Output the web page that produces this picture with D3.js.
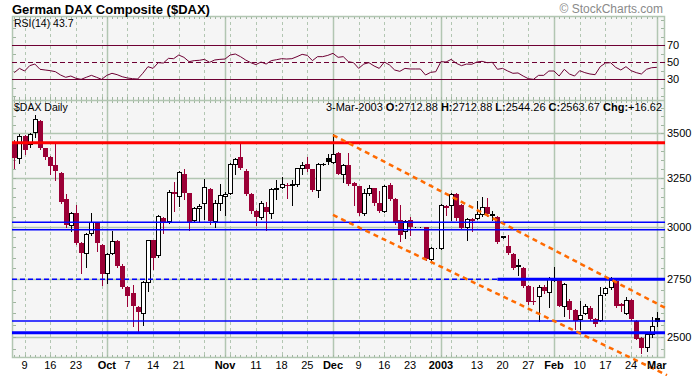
<!DOCTYPE html>
<html>
<head>
<meta charset="utf-8">
<script src="https://cdn.jsdelivr.net/npm/d3@7/dist/d3.min.js"></script>
<style>
  body { margin: 0; background: #fff; }
  svg { display: block; font-family: "Liberation Sans", Arial, sans-serif; }
</style>
</head>
<body>
<svg id="chart" width="694" height="376"></svg>
<script>
// German DAX daily candles with RSI(14), Sep 2002 - Mar 2003

const tradingDays = [
  "2002-09-05","2002-09-06","2002-09-09","2002-09-10","2002-09-11","2002-09-12","2002-09-13",
  "2002-09-16","2002-09-17","2002-09-18","2002-09-19","2002-09-20","2002-09-23","2002-09-24",
  "2002-09-25","2002-09-26","2002-09-27","2002-09-30",
  "2002-10-01","2002-10-02","2002-10-03","2002-10-04","2002-10-07","2002-10-08","2002-10-09",
  "2002-10-10","2002-10-11","2002-10-14","2002-10-15","2002-10-16","2002-10-17","2002-10-18",
  "2002-10-21","2002-10-22","2002-10-23","2002-10-24","2002-10-25","2002-10-28","2002-10-29",
  "2002-10-30","2002-10-31",
  "2002-11-01","2002-11-04","2002-11-05","2002-11-06","2002-11-07","2002-11-08","2002-11-11",
  "2002-11-12","2002-11-13","2002-11-14","2002-11-15","2002-11-18","2002-11-19","2002-11-20",
  "2002-11-21","2002-11-22","2002-11-25","2002-11-26","2002-11-27","2002-11-28","2002-11-29",
  "2002-12-02","2002-12-03","2002-12-04","2002-12-05","2002-12-06","2002-12-09","2002-12-10",
  "2002-12-11","2002-12-12","2002-12-13","2002-12-16","2002-12-17","2002-12-18","2002-12-19",
  "2002-12-20","2002-12-23","2002-12-24","2002-12-26","2002-12-27","2002-12-30","2002-12-31",
  "2003-01-02","2003-01-03","2003-01-06","2003-01-07","2003-01-08","2003-01-09","2003-01-10",
  "2003-01-13","2003-01-14","2003-01-15","2003-01-16","2003-01-17","2003-01-20","2003-01-21",
  "2003-01-22","2003-01-23","2003-01-24","2003-01-27","2003-01-28","2003-01-29","2003-01-30",
  "2003-01-31",
  "2003-02-03","2003-02-04","2003-02-05","2003-02-06","2003-02-07","2003-02-10","2003-02-11",
  "2003-02-12","2003-02-13","2003-02-14","2003-02-17","2003-02-18","2003-02-19","2003-02-20",
  "2003-02-21","2003-02-24","2003-02-25","2003-02-26","2003-02-27","2003-02-28",
  "2003-03-03"
];

const openP = [
  3450,3362,3484,3437,3506,3571,3415,3364,3319,3279,3140,3009,3068,2919,2874,2968,3021,2911,
  2777,2871,2927,2813,2717,2686,2625,2601,2737,2932,2860,3043,3026,3178,3155,3272,3170,3034,
  3093,3117,3193,3026,3117,
  3155,3170,3326,3364,3290,3164,3080,3048,3098,3068,3193,3201,3216,3216,3218,3303,3325,3297,
  3188,3326,3362,
  3336,3390,3275,3322,3225,3207,3068,3170,3197,3117,3080,3216,3141,3034,2979,3034,3000,3000,
  3000,2842,2895,
  2895,3102,3111,3164,3111,3000,3040,3043,3063,3098,3060,3048,2949,2907,2868,2812,2800,2720,
  2655,2673,2717,2693,
  2748,2752,2630,2655,2613,2576,2601,2624,2573,2569,2688,2713,2744,2641,2601,2659,2566,2496,
  2460,2510,
  2580
];
const highP = [
  3462,3494,3490,3500,3610,3575,3418,3370,3443,3285,3166,3075,3111,2925,2968,3068,3025,2915,
  2870,2979,2932,2818,2720,2725,2630,2740,2935,2935,3058,3050,3185,3229,3290,3300,3172,3100,
  3113,3246,3200,3136,3220,
  3175,3330,3360,3443,3300,3170,3085,3128,3122,3195,3240,3255,3225,3240,3305,3340,3364,3300,
  3335,3330,3380,
  3494,3395,3325,3390,3230,3210,3190,3215,3200,3180,3215,3225,3145,3111,3034,3050,3000,3000,
  3000,2900,2895,
  3115,3111,3170,3170,3115,3045,3045,3128,3150,3145,3080,3055,2956,2959,2870,2845,2805,2725,
  2713,2725,2725,2760,
  2808,2755,2735,2660,2617,2652,2640,2630,2580,2717,2715,2758,2748,2645,2672,2660,2570,2500,
  2520,2583,
  2607
];
const lowP = [
  3303,3330,3384,3420,3480,3410,3355,3270,3241,3118,3000,2979,2915,2777,2808,2960,2879,2725,
  2732,2865,2808,2710,2629,2544,2523,2551,2695,2796,2855,2968,3020,3080,3102,3140,2984,3022,
  3026,3040,3014,3000,3085,
  3060,3165,3275,3300,3160,3068,3009,3040,2984,3043,3140,3195,3146,3110,3210,3275,3290,3180,
  3150,3320,3325,
  3330,3270,3232,3215,3111,3060,3060,3160,3110,3075,3075,3135,3015,2927,2946,2960,3000,3000,
  2840,2835,2895,
  2890,3060,3034,3035,2990,2935,2980,3040,3055,3055,3035,2918,2944,2865,2798,2770,2715,2640,
  2640,2566,2690,2626,
  2740,2630,2587,2580,2531,2531,2598,2570,2544,2565,2680,2705,2628,2610,2598,2570,2490,2436,
  2442,2500,
  2544
];
const closeP = [
  3358,3484,3405,3494,3581,3418,3364,3317,3290,3122,3009,3068,2919,2874,2963,3021,2922,2773,
  2866,2927,2813,2717,2673,2629,2605,2737,2932,2850,3055,3018,3176,3168,3282,3170,3018,3093,
  3105,3202,3026,3117,3160,
  3166,3326,3355,3303,3164,3080,3048,3120,3071,3192,3200,3220,3208,3218,3303,3320,3297,3188,
  3325,3325,3336,
  3380,3275,3319,3220,3207,3068,3170,3197,3117,3080,3207,3141,3022,2959,3029,3000,3000,3000,
  2845,2895,2895,
  3111,3093,3164,3043,2995,3038,3030,3063,3098,3062,3064,2924,2952,2871,2803,2815,2720,2649,
  2647,2713,2695,2755,
  2757,2633,2728,2613,2566,2590,2630,2573,2554,2678,2710,2745,2633,2630,2659,2576,2493,2456,
  2510,2547,
  2564
];

const rsiValues = [
  37.5,42.5,39.4,45.7,47.6,41.4,40.6,39.8,38.6,34.7,32.0,33.5,30.8,29.6,32.0,34.3,32.0,29.6,
  34.3,36.7,35.1,32.7,31.2,30.4,30.0,36.7,44.5,42.5,49.2,48.8,54.3,53.9,58.2,55.5,50.4,51.6,
  52.0,53.1,49.6,52.4,53.1,
  53.5,58.2,59.4,56.3,52.4,49.2,46.9,50.0,47.6,51.6,52.7,53.9,53.5,53.9,56.3,59.0,57.8,51.6,
  56.3,56.3,57.8,
  60.2,55.5,56.3,50.4,49.2,42.5,47.6,49.2,45.3,42.5,50.0,46.5,40.6,39.0,42.5,41.8,41.8,41.8,
  34.7,37.8,38.6,
  50.4,50.0,53.1,48.4,45.7,47.6,47.3,50.0,50.8,49.2,49.6,41.4,42.5,39.4,36.7,37.1,33.5,30.4,
  29.6,34.3,34.3,39.4,
  39.4,33.5,41.4,35.9,33.5,39.8,37.5,35.9,35.1,44.5,48.8,49.2,43.7,40.6,44.5,39.8,37.5,35.9,
  41.4,43.3,
  43.7
];

const priceTicks = [2500, 2750, 3000, 3250, 3500];
const rsiTicks = [30, 50, 70];
const dateTicks = [
  ["2002-09-09","9"],["2002-09-16","16"],["2002-09-23","23"],["2002-10-01","Oct"],
  ["2002-10-07","7"],["2002-10-14","14"],["2002-10-21","21"],["2002-11-01","Nov"],
  ["2002-11-11","11"],["2002-11-18","18"],["2002-11-25","25"],["2002-12-02","Dec"],
  ["2002-12-09","9"],["2002-12-16","16"],["2002-12-23","23"],["2003-01-02","2003"],
  ["2003-01-13","13"],["2003-01-20","20"],["2003-01-27","27"],["2003-02-03","Feb"],
  ["2003-02-10","10"],["2003-02-17","17"],["2003-02-24","24"],["2003-03-03","Mar"]
];

// annotation levels
const resistanceLevel = 3446;
const supportLevels = [3022, 2984, 2567];
const heavySupportLevel = 2517;
const breakLevel = 2750;
const breakStart = "2003-01-17";
const channelUpper = [["2002-12-02", 3490], ["2003-03-03", 2642]];
const channelLower = [["2002-12-02", 3058], ["2003-03-03", 2366]];

const titleText = "German DAX Composite ($DAX)";
const rsiLabel = "RSI(14) 43.7";
const quote = [["3-Mar-2003 ", false], ["O:", true], ["2712.88 ", false], ["H:", true],
  ["2712.88 ", false], ["L:", true], ["2544.26 ", false], ["C:", true], ["2563.67 ", false],
  ["Chg:", true], ["+16.62", false]];

// layout
const svg = d3.select("#chart");
const left = 12, right = 665;
const rsiTop = 16, mainTop = 100, mainBottom = 358;
const gridColor = "#b2c6b2";
const downColor = "#9b0036";
const rsiColor = "#6e0033";

const x = d3.scalePoint().domain(tradingDays).range([14.3, 656.8]);
const y = d3.scaleLog().domain([2500, 3500]).range([336.9, 133.3]);
const yR = d3.scaleLinear().domain([30, 70]).range([79, 45]);
const parse = d3.timeParse("%Y-%m-%d");
const px = d => Math.round(x(d)) + 0.5;

const bars = tradingDays.map((d, i) => ({
  date: d, o: openP[i], h: highP[i], l: lowP[i], c: closeP[i],
  up: i === 0 ? closeP[i] >= openP[i] : closeP[i] >= closeP[i - 1]
}));

// plot backgrounds
svg.append("rect")
  .attr("x", left).attr("y", rsiTop)
  .attr("width", right - left).attr("height", mainBottom - rsiTop)
  .attr("fill", "#f5f5f5");

// vertical grid: Mondays dashed, first day of month solid
const monthStarts = tradingDays.filter((d, i) => i > 0 && d.slice(5, 7) !== tradingDays[i - 1].slice(5, 7));
const mondays = tradingDays.filter(d => parse(d).getDay() === 1 && !monthStarts.includes(d));

svg.append("g").selectAll("line")
  .data(mondays)
  .join("line")
  .attr("x1", px).attr("x2", px)
  .attr("y1", rsiTop).attr("y2", mainBottom)
  .attr("stroke", gridColor).attr("stroke-dasharray", "3,3");

svg.append("g").selectAll("line")
  .data(monthStarts)
  .join("line")
  .attr("x1", px).attr("x2", px)
  .attr("y1", rsiTop).attr("y2", mainBottom)
  .attr("stroke", gridColor).attr("stroke-width", 1.5);

// horizontal grid in price panel
svg.append("g").selectAll("line")
  .data(priceTicks)
  .join("line")
  .attr("x1", left).attr("x2", right)
  .attr("y1", d => Math.round(y(d)) + 0.5).attr("y2", d => Math.round(y(d)) + 0.5)
  .attr("stroke", gridColor).attr("stroke-width", 1.5);

// small ticks: days along the panel edges, values along the sides
const dayTicks = svg.append("g").attr("stroke", "#9fb59f");
[rsiTop, mainTop].forEach(t => {
  dayTicks.selectAll(null).data(tradingDays).join("line")
    .attr("x1", px).attr("x2", px).attr("y1", t).attr("y2", t + 3);
});
[mainTop, mainBottom].forEach(b => {
  dayTicks.selectAll(null).data(tradingDays).join("line")
    .attr("x1", px).attr("x2", px).attr("y1", b - 3).attr("y2", b);
});
const minorPrice = d3.range(2450, 3701, 50).filter(v => y(v) > mainTop + 2 && y(v) < mainBottom - 2);
const minorRsi = d3.range(10, 101, 10).filter(v => yR(v) > rsiTop + 2 && yR(v) < mainTop - 2);
[[minorPrice, y], [minorRsi, yR]].forEach(([vals, sc]) => {
  dayTicks.selectAll(null).data(vals).join("line")
    .attr("x1", left).attr("x2", left + 4)
    .attr("y1", d => Math.round(sc(d)) + 0.5).attr("y2", d => Math.round(sc(d)) + 0.5);
  dayTicks.selectAll(null).data(vals).join("line")
    .attr("x1", right - 4).attr("x2", right)
    .attr("y1", d => Math.round(sc(d)) + 0.5).attr("y2", d => Math.round(sc(d)) + 0.5);
});

// panel borders
svg.append("rect")
  .attr("x", left + 0.5).attr("y", rsiTop + 0.5)
  .attr("width", right - left - 1).attr("height", mainBottom - rsiTop - 1)
  .attr("fill", "none").attr("stroke", gridColor).attr("stroke-width", 1.5);
svg.append("line")
  .attr("x1", left).attr("x2", right).attr("y1", mainTop + 0.5).attr("y2", mainTop + 0.5)
  .attr("stroke", gridColor).attr("stroke-width", 1.5);

// RSI panel
const rsiG = svg.append("g");
rsiG.selectAll("line")
  .data(rsiTicks)
  .join("line")
  .attr("x1", left).attr("x2", right)
  .attr("y1", d => Math.round(yR(d)) + 0.5).attr("y2", d => Math.round(yR(d)) + 0.5)
  .attr("stroke", rsiColor)
  .attr("stroke-dasharray", d => d === 50 ? "5,3" : null);

rsiG.append("path")
  .datum(rsiValues)
  .attr("d", d3.line().x((d, i) => x(tradingDays[i])).y(d => yR(d)))
  .attr("fill", "none")
  .attr("stroke", rsiColor)
  .attr("stroke-width", 1);

// candles
const candles = svg.append("g")
  .selectAll("g")
  .data(bars)
  .join("g");

candles.append("line")
  .attr("x1", d => px(d.date)).attr("x2", d => px(d.date))
  .attr("y1", d => Math.round(y(d.h))).attr("y2", d => Math.round(y(d.l)) + 1)
  .attr("stroke", d => d.up ? "#000" : downColor);

candles.filter(d => d.c < d.o).append("rect")
  .attr("x", d => Math.round(x(d.date)) - 2)
  .attr("y", d => Math.round(y(d.o)))
  .attr("width", 5)
  .attr("height", d => Math.max(1, Math.round(y(d.c)) - Math.round(y(d.o))))
  .attr("fill", d => d.up ? "#000" : downColor);

candles.filter(d => d.c >= d.o).append("rect")
  .attr("x", d => Math.round(x(d.date)) - 1.5)
  .attr("y", d => Math.round(y(d.c)) + 0.5)
  .attr("width", 4)
  .attr("height", d => Math.round(y(d.o)) - Math.round(y(d.c)))
  .attr("fill", "#fff")
  .attr("stroke", d => d.up ? "#000" : downColor);

// annotation lines
const ann = svg.append("g");
ann.append("line")
  .attr("x1", left).attr("x2", right)
  .attr("y1", y(resistanceLevel)).attr("y2", y(resistanceLevel))
  .attr("stroke", "#ff0000").attr("stroke-width", 3);

ann.selectAll(".support")
  .data(supportLevels)
  .join("line")
  .attr("class", "support")
  .attr("x1", left).attr("x2", right)
  .attr("y1", d => y(d)).attr("y2", d => y(d))
  .attr("stroke", "#0000ff").attr("stroke-width", 1.5);

ann.append("line")
  .attr("x1", left).attr("x2", right)
  .attr("y1", y(heavySupportLevel)).attr("y2", y(heavySupportLevel))
  .attr("stroke", "#0000ff").attr("stroke-width", 3);

ann.append("line")
  .attr("x1", left).attr("x2", right)
  .attr("y1", y(breakLevel)).attr("y2", y(breakLevel))
  .attr("stroke", "#0000ff").attr("stroke-width", 1.5).attr("stroke-dasharray", "5,3");
ann.append("line")
  .attr("x1", x(breakStart)).attr("x2", right)
  .attr("y1", y(breakLevel)).attr("y2", y(breakLevel))
  .attr("stroke", "#0000ff").attr("stroke-width", 3);

// trend channel, extended a little past the last bar
[channelUpper, channelLower].forEach(ch => {
  const x0 = x(ch[0][0]), y0 = y(ch[0][1]);
  const x1 = x(ch[1][0]), y1 = y(ch[1][1]);
  const xEnd = right + 2;
  const yEnd = y0 + (y1 - y0) * (xEnd - x0) / (x1 - x0);
  ann.append("line")
    .attr("x1", x0).attr("y1", y0).attr("x2", xEnd).attr("y2", yEnd)
    .attr("stroke", "#ff6a00").attr("stroke-width", 2.5)
    .attr("stroke-dasharray", "5,4");
});

// axis labels
svg.append("g").selectAll("text")
  .data(priceTicks)
  .join("text")
  .attr("x", right + 2).attr("y", d => y(d) + 4)
  .attr("font-size", 11)
  .text(d => d);

svg.append("g").selectAll("text")
  .data(rsiTicks)
  .join("text")
  .attr("x", right + 2).attr("y", d => yR(d) + 4)
  .attr("font-size", 11)
  .text(d => d);

svg.append("g").selectAll("text")
  .data(dateTicks)
  .join("text")
  .attr("x", d => x(d[0]))
  .attr("y", 369)
  .attr("text-anchor", "middle")
  .attr("font-size", 11)
  .attr("font-weight", d => isNaN(+d[1]) || d[1].length === 4 ? "bold" : "normal")
  .text(d => d[1]);

// titles and legends
svg.append("text")
  .attr("x", 12).attr("y", 14)
  .attr("font-size", 13).attr("font-weight", "bold")
  .text(titleText);

svg.append("text")
  .attr("x", 663).attr("y", 13)
  .attr("text-anchor", "end")
  .attr("font-size", 12).attr("fill", "#8a8a8a")
  .text("© StockCharts.com");

svg.append("text")
  .attr("x", 14).attr("y", 27)
  .attr("font-size", 10.5)
  .text(rsiLabel);

svg.append("text")
  .attr("x", 14).attr("y", 111)
  .attr("font-size", 10.5)
  .text("$DAX Daily");

svg.append("text")
  .attr("x", 662).attr("y", 111)
  .attr("text-anchor", "end")
  .attr("font-size", 11)
  .selectAll("tspan")
  .data(quote)
  .join("tspan")
  .attr("font-weight", d => d[1] ? "bold" : "normal")
  .text(d => d[0]);
</script>
</body>
</html>
